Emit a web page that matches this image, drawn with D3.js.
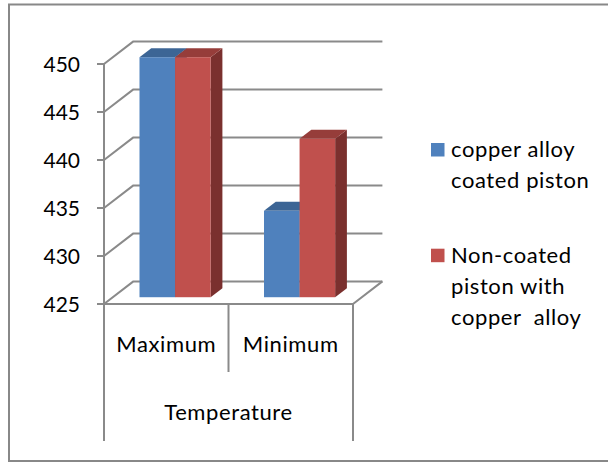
<!DOCTYPE html>
<html>
<head>
<meta charset="utf-8">
<script src="https://cdn.jsdelivr.net/npm/d3@7/dist/d3.min.js"></script>
<style>
  html, body { margin: 0; padding: 0; background: #fff; }
  svg { display: block; }
  text { font-family: Lato, "Open Sans", sans-serif; fill: #000; white-space: pre; }
  .lbl { font-size: 22px; letter-spacing: 0.6px; }
</style>
</head>
<body>
<svg id="chart" width="608" height="462"></svg>
<script>
// Chart data
const categories = ["Maximum", "Minimum"];
const seriesNames = ["copper alloy coated piston", "Non-coated piston with copper  alloy"];
const seriesA = [450, 434];     // copper alloy coated piston
const seriesB = [450, 441.5];   // Non-coated piston with copper alloy
const yTicks = [425, 430, 435, 440, 445, 450];
const axisTitle = "Temperature";
const legendLines = [["copper alloy", "coated piston"], ["Non-coated", "piston with", "copper  alloy"]];

const svg = d3.select("#chart");

// Layout of the 3D plot box (front plane + depth vector)
const front = { left: 104, right: 353, top: 64, bottom: 304 };
const depth = { dx: 29.4, dy: -22.6 };
const barDepthStart = 0.3, barDepthEnd = 0.7;

const y = d3.scaleLinear().domain([425, 450]).range([front.bottom, front.top]);
const x0 = d3.scaleBand().domain(categories).range([front.left, front.right])
  .paddingInner(1.5 / 3.5).paddingOuter(0.75 / 3.5);
const x1 = d3.scaleBand().domain(d3.range(seriesNames.length)).range([0, x0.bandwidth()]);

const colors = [
  { front: "#4F81BD", top: "#3C6595", side: "#2F5078" },
  { front: "#C0504D", top: "#963D3A", side: "#7A302E" }
];
const gridColor = "#8A8A8A";

// Outer frame
svg.append("rect").attr("x", 9).attr("y", 4.5).attr("width", 640).attr("height", 456.5)
  .attr("fill", "none").attr("stroke", "#888").attr("stroke-width", 2);

const pt = (px, py, d) => [px + depth.dx * d, py + depth.dy * d];
const line = d3.line();

// Back wall gridlines and side wall diagonals
const grid = svg.append("g").attr("stroke", gridColor).attr("stroke-width", 2).attr("fill", "none")
  .attr("stroke-linejoin", "round");
yTicks.forEach(t => {
  const yy = y(t);
  grid.append("path").attr("d", line([[front.left, yy], pt(front.left, yy, 1), pt(front.right, yy, 1)]));
});
// Floor edges
grid.append("path").attr("d", line([[front.left - 7, front.bottom], [front.right, front.bottom], pt(front.right, front.bottom, 1)]));

// Vertical axis with ticks
grid.append("path").attr("d", line([[front.left, front.top], [front.left, 441]]));
yTicks.forEach(t => {
  grid.append("path").attr("d", line([[front.left - 7, y(t)], [front.left, y(t)]]));
});
// Category dividers under the floor
grid.append("path").attr("d", line([[front.right, front.bottom], [front.right, 441]]));
grid.append("path").attr("d", line([[(front.left + front.right) / 2, front.bottom], [(front.left + front.right) / 2, 372]]));

// Tick labels
svg.append("g").selectAll("text").data(yTicks).join("text")
  .attr("x", 80).attr("y", d => y(d)).attr("dy", "0.36em")
  .attr("text-anchor", "end").attr("font-size", 21).text(d => d);

// Bars as oblique boxes
const bars = svg.append("g");
const seriesVals = [seriesA, seriesB];
categories.forEach((c, ci) => {
  seriesVals.forEach((vals, si) => {
    const v = vals[ci];
    const xl = x0(c) + x1(si), xr = xl + x1.bandwidth();
    const yb = y(425), yt = y(v);
    const d0 = barDepthStart, d1 = barDepthEnd;
    const col = colors[si];
    // side face
    bars.append("path").attr("fill", col.side)
      .attr("d", line([pt(xr, yt, d0), pt(xr, yt, d1), pt(xr, yb, d1), pt(xr, yb, d0)]) + "Z");
    // top face
    bars.append("path").attr("fill", col.top)
      .attr("d", line([pt(xl, yt, d0), pt(xl, yt, d1), pt(xr, yt, d1), pt(xr, yt, d0)]) + "Z");
    // front face
    const p = pt(xl, yt, d0);
    bars.append("rect").attr("fill", col.front)
      .attr("x", p[0]).attr("y", p[1]).attr("width", xr - xl).attr("height", yb - yt);
  });
});

// Category labels
svg.append("g").selectAll("text").data(categories).join("text")
  .attr("class", "lbl")
  .attr("x", d => x0(d) + x0.bandwidth() / 2).attr("y", 352)
  .attr("text-anchor", "middle").text(d => d);

svg.append("text").attr("class", "lbl").attr("x", (front.left + front.right) / 2).attr("y", 420)
  .attr("text-anchor", "middle").text(axisTitle);

// Legend
const legendTops = [157, 262.7];
const legend = svg.append("g");
legendLines.forEach((lines, i) => {
  legend.append("rect").attr("x", 431).attr("y", legendTops[i] - 14).attr("width", 13.5).attr("height", 13.5)
    .attr("fill", colors[i].front);
  lines.forEach((ln, j) => {
    legend.append("text").attr("class", "lbl").attr("x", 451).attr("y", legendTops[i] + j * 31).text(ln);
  });
});
</script>
</body>
</html>
